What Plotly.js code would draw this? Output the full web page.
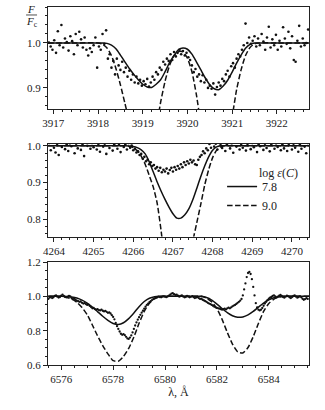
<!DOCTYPE html>
<html>
<head>
<meta charset="utf-8">
<script src="https://cdn.plot.ly/plotly-3.0.1.min.js"></script>
<style>
  html, body { margin: 0; padding: 0; background: #fff; }
  #plot { width: 325px; height: 410px; }
</style>
</head>
<body>
<div id="plot"></div>
<script>
// Panel 1: C II 3918/3920 region
const obsX1 = [
  3916.90, 3916.94, 3916.98, 3917.02, 3917.06, 3917.10, 3917.14, 3917.18, 3917.22, 3917.26,
  3917.30, 3917.34, 3917.38, 3917.42, 3917.46, 3917.50, 3917.54, 3917.58, 3917.62, 3917.66,
  3917.70, 3917.74, 3917.78, 3917.82, 3917.86, 3917.90, 3917.94, 3917.98, 3918.02, 3918.06,
  3918.10, 3918.14, 3918.18, 3918.22, 3918.26, 3918.30, 3918.34, 3918.38, 3918.42, 3918.46,
  3918.50, 3918.54, 3918.58, 3918.62, 3918.66, 3918.70, 3918.74, 3918.78, 3918.82, 3918.86,
  3918.90, 3918.94, 3918.98, 3919.02, 3919.06, 3919.10, 3919.14, 3919.18, 3919.22, 3919.26,
  3919.30, 3919.34, 3919.38, 3919.42, 3919.46, 3919.50, 3919.54, 3919.58, 3919.62, 3919.66,
  3919.70, 3919.74, 3919.78, 3919.82, 3919.86, 3919.90, 3919.94, 3919.98, 3920.02, 3920.06,
  3920.10, 3920.14, 3920.18, 3920.22, 3920.26, 3920.30, 3920.34, 3920.38, 3920.42, 3920.46,
  3920.50, 3920.54, 3920.58, 3920.62, 3920.66, 3920.70, 3920.74, 3920.78, 3920.82, 3920.86,
  3920.90, 3920.94, 3920.98, 3921.02, 3921.06, 3921.10, 3921.14, 3921.18, 3921.22, 3921.26,
  3921.30, 3921.34, 3921.38, 3921.42, 3921.46, 3921.50, 3921.54, 3921.58, 3921.62, 3921.66,
  3921.70, 3921.74, 3921.78, 3921.82, 3921.86, 3921.90, 3921.94, 3921.98, 3922.02, 3922.06,
  3922.10, 3922.14, 3922.18, 3922.22, 3922.26, 3922.30, 3922.34, 3922.38, 3922.42, 3922.46,
  3922.50, 3922.54, 3922.58, 3922.62, 3922.66, 3922.70
];
const obsY1 = [
  1.001, 0.992, 0.985, 1.006, 0.978, 1.026, 0.995, 1.040, 0.990, 1.010,
  1.002, 0.983, 1.015, 1.004, 0.975, 1.020, 0.995, 1.025, 1.008, 0.990,
  1.012, 0.985, 0.972, 0.988, 0.980, 0.995, 1.012, 0.945, 0.992, 0.985,
  1.020, 0.998, 1.028, 0.965, 0.975, 0.945, 0.960, 0.930, 0.965, 0.950,
  0.940, 0.958, 0.935, 0.945, 0.925, 0.938, 0.918, 0.930, 0.912, 0.925,
  0.910, 0.918, 0.905, 0.915, 0.908, 0.920, 0.903, 0.912, 0.925, 0.918,
  0.935, 0.930, 0.945, 0.940, 0.958, 0.952, 0.965, 0.960, 0.975, 0.962,
  0.980, 0.970, 0.978, 0.985, 0.975, 0.982, 0.972, 0.978, 0.968, 0.962,
  0.950, 0.935, 0.942, 0.925, 0.930, 0.915, 0.928, 0.912, 0.918, 0.900,
  0.905, 0.898, 0.910, 0.885, 0.902, 0.912, 0.905, 0.920, 0.915, 0.930,
  0.938, 0.925, 0.948, 0.955, 0.945, 0.965, 0.975, 0.970, 0.985, 0.995,
  1.043, 1.000, 1.012, 0.998, 1.005, 1.015, 0.992, 1.010, 0.995, 1.020,
  1.003, 0.985, 1.012, 1.036, 0.990, 1.008, 0.995, 1.018, 0.985, 1.005,
  0.992, 1.035, 1.010, 0.998, 1.025, 0.988, 1.015, 0.962, 0.958, 1.005,
  1.038, 0.992, 1.010, 0.995, 1.000, 1.030
];
const modelX1 = [
  3916.88, 3917.5, 3918.0, 3918.1, 3918.2, 3918.3, 3918.4, 3918.5, 3918.6, 3918.7,
  3918.8, 3918.9, 3919.0, 3919.1, 3919.2, 3919.3, 3919.4, 3919.5, 3919.6, 3919.7,
  3919.8, 3919.9, 3920.0, 3920.1, 3920.2, 3920.3, 3920.4, 3920.5, 3920.6, 3920.7,
  3920.8, 3920.9, 3921.0, 3921.1, 3921.2, 3921.3, 3921.4, 3921.5, 3921.6, 3922.0, 3922.72
];
const solidY1 = [
  1.0, 1.0, 1.0, 1.0, 0.999, 0.995, 0.987, 0.973, 0.958, 0.943,
  0.930, 0.918, 0.908, 0.902, 0.901, 0.908, 0.918, 0.936, 0.956, 0.972,
  0.985, 0.989, 0.986, 0.975, 0.958, 0.940, 0.922, 0.907, 0.898, 0.896,
  0.904, 0.917, 0.935, 0.955, 0.973, 0.988, 0.997, 1.0, 1.0, 1.0, 1.0
];
const dashY1 = [
  1.0, 1.0, 1.0, 0.997, 0.989, 0.972, 0.943, 0.907, 0.866, 0.825,
  0.790, 0.765, 0.750, 0.750, 0.770, 0.810, 0.868, 0.915, 0.950, 0.972,
  0.981, 0.980, 0.966, 0.936, 0.885, 0.820, 0.770, 0.740, 0.720, 0.720,
  0.740, 0.780, 0.835, 0.896, 0.940, 0.972, 0.990, 0.998, 1.0, 1.0, 1.0
];

// Panel 2: C II 4267 region
const obsX2 = [
  4263.88, 4263.92, 4263.96, 4264.00, 4264.04, 4264.08, 4264.12, 4264.16, 4264.20, 4264.24,
  4264.28, 4264.32, 4264.36, 4264.40, 4264.44, 4264.48, 4264.52, 4264.56, 4264.60, 4264.64,
  4264.68, 4264.72, 4264.76, 4264.80, 4264.84, 4264.88, 4264.92, 4264.96, 4265.00, 4265.04,
  4265.08, 4265.12, 4265.16, 4265.20, 4265.24, 4265.28, 4265.32, 4265.36, 4265.40, 4265.44,
  4265.48, 4265.52, 4265.56, 4265.60, 4265.64, 4265.68, 4265.72, 4265.76, 4265.80, 4265.84,
  4265.88, 4265.92, 4265.96, 4266.00, 4266.04, 4266.08, 4266.12, 4266.16, 4266.20, 4266.24,
  4266.28, 4266.32, 4266.36, 4266.40, 4266.44, 4266.48, 4266.52, 4266.56, 4266.60, 4266.64,
  4266.68, 4266.72, 4266.76, 4266.80, 4266.84, 4266.88, 4266.92, 4266.96, 4267.00, 4267.04,
  4267.08, 4267.12, 4267.16, 4267.20, 4267.24, 4267.28, 4267.32, 4267.36, 4267.40, 4267.44,
  4267.48, 4267.52, 4267.56, 4267.60, 4267.64, 4267.68, 4267.72, 4267.76, 4267.80, 4267.84,
  4267.88, 4267.92, 4267.96, 4268.00, 4268.04, 4268.08, 4268.12, 4268.16, 4268.20, 4268.24,
  4268.28, 4268.32, 4268.36, 4268.40, 4268.44, 4268.48, 4268.52, 4268.56, 4268.60, 4268.64,
  4268.68, 4268.72, 4268.76, 4268.80, 4268.84, 4268.88, 4268.92, 4268.96, 4269.00, 4269.04,
  4269.08, 4269.12, 4269.16, 4269.20, 4269.24, 4269.28, 4269.32, 4269.36, 4269.40, 4269.44,
  4269.48, 4269.52, 4269.56, 4269.60, 4269.64, 4269.68, 4269.72, 4269.76, 4269.80, 4269.84,
  4269.88, 4269.92, 4269.96, 4270.00, 4270.04, 4270.08, 4270.12, 4270.16, 4270.20, 4270.24,
  4270.28, 4270.32, 4270.36, 4270.40
];
const obsY2 = [
  1.008, 0.988, 1.015, 0.995, 0.982, 1.002, 0.975, 1.011, 0.997, 1.019,
  0.991, 1.004, 0.986, 1.007, 0.999, 1.013, 0.980, 1.006, 0.993, 1.016,
  0.989, 1.003, 0.972, 1.010, 1.000, 1.018, 0.992, 1.008, 0.996, 1.022,
  0.990, 1.005, 0.984, 1.012, 0.998, 1.006, 0.978, 1.014, 0.994, 1.009,
  0.987, 1.003, 1.017, 0.992, 1.005, 0.983, 1.010, 0.997, 1.004, 0.990,
  1.008, 0.995, 1.001, 0.988, 0.992, 0.982, 0.985, 0.975, 0.978, 0.965,
  0.970, 0.958, 0.962, 0.950, 0.955, 0.945, 0.948, 0.938, 0.942, 0.932,
  0.940, 0.928, 0.935, 0.930, 0.938, 0.925, 0.934, 0.940, 0.930, 0.942,
  0.935, 0.945, 0.938, 0.950, 0.942, 0.955, 0.948, 0.958, 0.952, 0.962,
  0.955, 0.960, 0.950, 0.948, 0.962, 0.970, 0.975, 0.985, 0.980, 0.993,
  0.988, 1.005, 0.995, 1.012, 0.998, 1.006, 0.990, 1.015, 1.002, 0.994,
  1.009, 0.986, 1.004, 1.018, 0.993, 1.007, 0.981, 1.011, 0.998, 1.021,
  0.990, 1.005, 0.995, 1.013, 0.987, 1.002, 1.016, 0.991, 1.008, 0.996,
  1.012, 0.983, 1.004, 0.999, 1.017, 0.989, 1.006, 0.994, 1.011, 0.985,
  1.003, 1.014, 0.992, 1.007, 0.997, 1.015, 0.988, 1.004, 0.993, 1.010,
  0.986, 1.002, 1.012, 0.990, 1.006, 0.995, 1.018, 0.984, 1.003, 0.992,
  1.014, 0.998, 0.980, 1.008
];
const modelX2 = [
  4263.85, 4265.0, 4265.8, 4265.9, 4266.0, 4266.1, 4266.2, 4266.3, 4266.4, 4266.5,
  4266.6, 4266.7, 4266.8, 4266.9, 4267.0, 4267.1, 4267.2, 4267.3, 4267.4, 4267.5,
  4267.6, 4267.7, 4267.8, 4267.9, 4268.0, 4268.1, 4268.2, 4268.3, 4269.0, 4270.45
];
const solidY2 = [
  1.0, 1.0, 1.0, 0.999, 0.998, 0.995, 0.989, 0.978, 0.957, 0.930,
  0.902, 0.877, 0.854, 0.833, 0.815, 0.803, 0.803, 0.812, 0.828, 0.853,
  0.884, 0.916, 0.945, 0.970, 0.988, 0.997, 1.0, 1.0, 1.0, 1.0
];
const dashY2 = [
  1.0, 1.0, 1.0, 0.999, 0.995, 0.987, 0.972, 0.950, 0.920, 0.889,
  0.845, 0.770, 0.680, 0.620, 0.590, 0.580, 0.590, 0.620, 0.680, 0.740,
  0.790, 0.840, 0.893, 0.935, 0.968, 0.988, 0.997, 1.0, 1.0, 1.0
];

// Panel 3: C II 6578/6583 region
const obsX3 = [
  6575.50, 6575.55, 6575.60, 6575.65, 6575.70, 6575.75, 6575.80, 6575.85, 6575.90, 6575.95,
  6576.00, 6576.05, 6576.10, 6576.15, 6576.20, 6576.25, 6576.30, 6576.35, 6576.40, 6576.45,
  6576.50, 6576.55, 6576.60, 6576.65, 6576.70, 6576.75, 6576.80, 6576.85, 6576.90, 6576.95,
  6577.00, 6577.05, 6577.10, 6577.15, 6577.20, 6577.25, 6577.30, 6577.35, 6577.40, 6577.45,
  6577.50, 6577.55, 6577.60, 6577.65, 6577.70, 6577.75, 6577.80, 6577.85, 6577.90, 6577.95,
  6578.00, 6578.05, 6578.10, 6578.15, 6578.20, 6578.25, 6578.30, 6578.35, 6578.40, 6578.45,
  6578.50, 6578.55, 6578.60, 6578.65, 6578.70, 6578.75, 6578.80, 6578.85, 6578.90, 6578.95,
  6579.00, 6579.05, 6579.10, 6579.15, 6579.20, 6579.25, 6579.30, 6579.35, 6579.40, 6579.45,
  6579.50, 6579.55, 6579.60, 6579.65, 6579.70, 6579.75, 6579.80, 6579.85, 6579.90, 6579.95,
  6580.00, 6580.05, 6580.10, 6580.15, 6580.20, 6580.25, 6580.30, 6580.35, 6580.40, 6580.45,
  6580.50, 6580.55, 6580.60, 6580.65, 6580.70, 6580.75, 6580.80, 6580.85, 6580.90, 6580.95,
  6581.00, 6581.05, 6581.10, 6581.15, 6581.20, 6581.25, 6581.30, 6581.35, 6581.40, 6581.45,
  6581.50, 6581.55, 6581.60, 6581.65, 6581.70, 6581.75, 6581.80, 6581.85, 6581.90, 6581.95,
  6582.00, 6582.05, 6582.10, 6582.15, 6582.20, 6582.25, 6582.30, 6582.35, 6582.40, 6582.45,
  6582.50, 6582.55, 6582.60, 6582.65, 6582.70, 6582.75, 6582.80, 6582.85, 6582.90, 6582.95,
  6583.00, 6583.05, 6583.10, 6583.15, 6583.20, 6583.25, 6583.30, 6583.35, 6583.40, 6583.45,
  6583.50, 6583.55, 6583.60, 6583.65, 6583.70, 6583.75, 6583.80, 6583.85, 6583.90, 6583.95,
  6584.00, 6584.05, 6584.10, 6584.15, 6584.20, 6584.25, 6584.30, 6584.35, 6584.40, 6584.45,
  6584.50, 6584.55, 6584.60, 6584.65, 6584.70, 6584.75, 6584.80, 6584.85, 6584.90, 6584.95,
  6585.00, 6585.05, 6585.10, 6585.15, 6585.20, 6585.25, 6585.30, 6585.35, 6585.40, 6585.45,
  6585.50
];
const obsY3 = [
  0.985, 0.992, 0.996, 0.990, 0.994, 1.003, 1.006, 0.998, 0.993, 0.996,
  1.004, 1.010, 1.002, 0.996, 0.994, 0.998, 1.003, 0.999, 0.990, 0.984,
  0.986, 0.980, 0.975, 0.972, 0.968, 0.970, 0.962, 0.958, 0.961, 0.955,
  0.950, 0.952, 0.944, 0.938, 0.930, 0.932, 0.926, 0.922, 0.925, 0.920,
  0.918, 0.922, 0.916, 0.912, 0.915, 0.910, 0.904, 0.906, 0.900, 0.890,
  0.880, 0.866, 0.845, 0.826, 0.810, 0.795, 0.782, 0.776, 0.780, 0.774,
  0.764, 0.755, 0.752, 0.760, 0.772, 0.790, 0.810, 0.830, 0.848, 0.864,
  0.878, 0.892, 0.905, 0.916, 0.928, 0.940, 0.950, 0.958, 0.966, 0.972,
  0.978, 0.984, 0.988, 0.992, 0.995, 0.998, 0.996, 0.994, 0.998, 1.000,
  0.997, 0.995, 0.999, 1.004, 1.010, 1.016, 1.018, 1.012, 1.008, 1.010,
  1.004, 0.998, 1.002, 1.006, 0.999, 0.994, 0.996, 1.002, 0.998, 0.994,
  0.997, 1.001, 0.995, 0.990, 0.993, 0.996, 0.990, 0.985, 0.986, 0.980,
  0.976, 0.972, 0.968, 0.962, 0.958, 0.955, 0.950, 0.945, 0.940, 0.936,
  0.933, 0.930, 0.928, 0.925, 0.922, 0.925, 0.928, 0.924, 0.930, 0.934,
  0.930, 0.936, 0.942, 0.946, 0.950, 0.956, 0.962, 0.968, 0.975, 0.985,
  1.005, 1.040, 1.075, 1.112, 1.136, 1.142, 1.130, 1.100, 1.055, 1.005,
  0.960, 0.935, 0.922, 0.918, 0.922, 0.932, 0.945, 0.958, 0.968, 0.978,
  0.986, 0.992, 0.996, 1.002, 1.006, 1.000, 0.994, 0.998, 1.004, 1.008,
  1.002, 0.996, 0.992, 0.998, 1.004, 1.000, 0.994, 0.990, 0.996, 1.002,
  1.006, 0.998, 0.992, 0.996, 1.000, 0.994, 0.986, 0.980, 0.984, 0.990,
  0.985
];
const modelX3 = [
  6575.5, 6576.0, 6576.2, 6576.4, 6576.6, 6576.8, 6577.0, 6577.2, 6577.4, 6577.6,
  6577.8, 6578.0, 6578.2, 6578.4, 6578.6, 6578.8, 6579.0, 6579.2, 6579.4, 6579.6,
  6579.8, 6580.0, 6581.0, 6581.4, 6581.6, 6581.8, 6582.0, 6582.2, 6582.4, 6582.6,
  6582.8, 6583.0, 6583.2, 6583.4, 6583.6, 6583.8, 6584.0, 6584.2, 6584.4, 6584.6,
  6585.0, 6585.55
];
const solidY3 = [
  1.0, 1.0, 0.999, 0.996, 0.990, 0.978, 0.961, 0.938, 0.911, 0.884,
  0.860, 0.842, 0.836, 0.846, 0.870, 0.903, 0.940, 0.970, 0.989, 0.998,
  1.0, 1.0, 1.0, 1.0, 0.993, 0.978, 0.955, 0.929, 0.905, 0.887,
  0.878, 0.880, 0.892, 0.912, 0.937, 0.961, 0.980, 0.992, 0.998, 1.0,
  1.0, 1.0
];
const dashY3 = [
  1.0, 1.0, 0.995, 0.985, 0.966, 0.935, 0.893, 0.833, 0.770, 0.713,
  0.665, 0.625, 0.622, 0.650, 0.697, 0.763, 0.843, 0.912, 0.960, 0.987,
  0.998, 1.0, 1.0, 1.0, 0.990, 0.968, 0.928, 0.866, 0.790, 0.722,
  0.677, 0.670, 0.702, 0.765, 0.842, 0.912, 0.958, 0.984, 0.996, 1.0,
  1.0, 1.0
];

const abundLabels = ['7.8', '9.0'];

const serif = 'Liberation Serif, DejaVu Serif, serif';
const ink = '#222';

function obsTrace(x, y, n, size) {
  return {
    x: x, y: y, xaxis: 'x' + n, yaxis: 'y' + n,
    type: 'scatter', mode: 'markers',
    marker: { color: '#111', size: size },
    showlegend: false, hoverinfo: 'skip'
  };
}

function modelTrace(x, y, n, dashed, showLegend) {
  return {
    x: x, y: y, xaxis: 'x' + n, yaxis: 'y' + n,
    type: 'scatter', mode: 'lines',
    name: dashed ? abundLabels[1] : abundLabels[0],
    line: { color: '#111', width: 1.5, dash: dashed ? '5.5px,2.5px' : 'solid', shape: 'spline', smoothing: 0.6 },
    showlegend: showLegend, hoverinfo: 'skip'
  };
}

function xAxis(range, dtick, minor, anchor) {
  return {
    range: range, dtick: dtick, tick0: 0, anchor: anchor, domain: [0, 1],
    ticks: 'outside', ticklen: 4, tickwidth: 1, tickcolor: ink,
    showline: true, linecolor: ink, linewidth: 1, mirror: true,
    showgrid: false, zeroline: false,
    tickfont: { family: serif, size: 11, color: ink },
    minor: { dtick: minor, ticks: 'outside', ticklen: 2, tickcolor: ink, showgrid: false }
  };
}

function yAxis(range, dtick, minor, anchor, domain) {
  return {
    range: range, dtick: dtick, tick0: 0, anchor: anchor, domain: domain,
    tickformat: '.1f',
    ticks: 'outside', ticklen: 4, tickwidth: 1, tickcolor: ink,
    showline: true, linecolor: ink, linewidth: 1, mirror: true,
    showgrid: false, zeroline: false,
    tickfont: { family: serif, size: 11, color: ink },
    minor: { dtick: minor, ticks: 'outside', ticklen: 2, tickcolor: ink, showgrid: false }
  };
}

const data = [
  obsTrace(obsX1, obsY1, '', 2.6),
  modelTrace(modelX1, solidY1, '', false, false),
  modelTrace(modelX1, dashY1, '', true, false),
  obsTrace(obsX2, obsY2, '2', 2.6),
  modelTrace(modelX2, solidY2, '2', false, true),
  modelTrace(modelX2, dashY2, '2', true, true),
  obsTrace(obsX3, obsY3, '3', 2.3),
  modelTrace(modelX3, solidY3, '3', false, false),
  modelTrace(modelX3, dashY3, '3', true, false)
];

const layout = {
  width: 325, height: 410,
  margin: { l: 48, r: 16, t: 7, b: 45 },
  paper_bgcolor: '#fff', plot_bgcolor: '#fff',
  font: { family: serif, color: ink },
  xaxis: xAxis([3916.88, 3922.72], 1, 0.2, 'y'),
  yaxis: yAxis([0.853, 1.08], 0.1, 0.02, 'x', [0.7151, 1]),
  xaxis2: xAxis([4263.85, 4270.43], 1, 0.2, 'y2'),
  yaxis2: yAxis([0.753, 1.005], 0.1, 0.02, 'x2', [0.3589, 0.6173]),
  xaxis3: Object.assign(xAxis([6575.49, 6585.55], 2, 0.5, 'y3'), {
    title: { text: 'λ, Å', font: { family: serif, size: 12, color: ink }, standoff: 3 }
  }),
  yaxis3: yAxis([0.6, 1.2], 0.2, 0.05, 'x3', [0, 0.2877]),
  showlegend: true,
  legend: {
    x: 0.667, y: 0.539, xanchor: 'left', yanchor: 'top',
    bgcolor: 'rgba(0,0,0,0)', borderwidth: 0,
    font: { family: serif, size: 12, color: ink },
    itemwidth: 30, tracegroupgap: 0
  },
  annotations: [
    { xref: 'paper', yref: 'paper', x: -0.066, y: 0.9944, xanchor: 'center', yanchor: 'middle',
      text: '<i>F</i>', showarrow: false, font: { family: serif, size: 11, color: ink } },
    { xref: 'paper', yref: 'paper', x: -0.062, y: 0.9580, xanchor: 'center', yanchor: 'middle',
      text: '<i>F</i><sub>c</sub>', showarrow: false, font: { family: serif, size: 11, color: ink } },
    { xref: 'paper', yref: 'paper', x: 0.885, y: 0.536, xanchor: 'center', yanchor: 'middle',
      text: 'log <i>ε</i>(<i>C</i>)', showarrow: false, font: { family: serif, size: 12, color: ink } }
  ],
  shapes: [
    { type: 'line', xref: 'paper', yref: 'paper', x0: -0.084, x1: -0.042, y0: 0.9777, y1: 0.9777,
      line: { color: ink, width: 0.8 } }
  ]
};

Plotly.newPlot('plot', data, layout, { displayModeBar: false, staticPlot: true });
</script>
</body>
</html>
